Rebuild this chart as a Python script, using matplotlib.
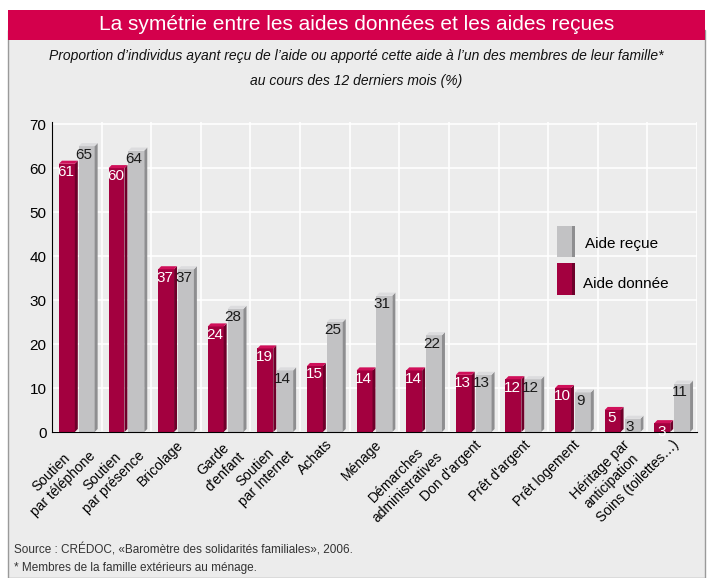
import numpy as np
import matplotlib.pyplot as plt
from matplotlib.patches import Polygon, Rectangle

# données
categories = ['Soutien\npar téléphone', 'Soutien\npar présence', 'Bricolage',
              'Garde\nd\'enfant', 'Soutien\npar Internet', 'Achats', 'Ménage',
              'Démarches\nadministratives', 'Don d\'argent', 'Prêt d\'argent',
              'Prêt logement', 'Héritage par\nanticipation', 'Soins (toilettes…)']
aide_donnee = [61, 60, 37, 24, 19, 15, 14, 14, 13, 12, 10, 5, 2]
aide_donnee_lbl = ['61', '60', '37', '24', '19', '15', '14', '14', '13', '12', '10', '5', '3']
aide_recue = [65, 64, 37, 28, 14, 25, 31, 22, 13, 12, 9, 3, 11]
yticks = [0, 10, 20, 30, 40, 50, 60, 70]

RED = '#a3003f'
RED_SIDE = '#6e002a'
RED_TOP = '#d0105a'
GREY = '#c2c2c4'
GREY_SIDE = '#8e8e90'
GREY_TOP = '#dcdcde'
TITLE_RED = '#d4004c'
BG = '#ececec'

plt.rcParams['font.family'] = ['Liberation Sans', 'DejaVu Sans']

fig = plt.figure(figsize=(7.13, 5.78), dpi=100)
fig.patch.set_facecolor('white')

# cadre général + bandeau titre
fig.patches.append(Rectangle((8 / 713, 0), 697 / 713, 548 / 578, transform=fig.transFigure,
                             facecolor=BG, edgecolor='#9a9a9a', lw=1, zorder=-5))
fig.patches.append(Rectangle((8 / 713, 538 / 578), 697 / 713, 30 / 578, transform=fig.transFigure,
                             facecolor=TITLE_RED, edgecolor='none', zorder=-4))
fig.text(0.5, 553 / 578, 'La symétrie entre les aides données et les aides reçues',
         ha='center', va='center', color='white', fontsize=15)
fig.text(0.5, 522 / 578,
         'Proportion d\u2019individus ayant reçu de l\u2019aide ou apporté cette aide à l\u2019un des membres de leur famille*',
         ha='center', va='center', fontsize=10, style='italic', color='#111111')
fig.text(0.5, 497 / 578, 'au cours des 12 derniers mois (%)',
         ha='center', va='center', fontsize=10, style='italic', color='#111111')

ax = fig.add_axes([52 / 713, 146 / 578, 645 / 713, 310 / 578])
ax.set_facecolor(BG)

x = np.arange(len(categories))
w = 0.32
dx = 0.06
dy = 0.7


def bar3d(xc, h, col, side, top):
    ax.add_patch(Rectangle((xc - w / 2, 0), w, h, facecolor=col, edgecolor='none', zorder=3))
    ax.add_patch(Polygon([(xc + w / 2, 0), (xc + w / 2 + dx, dy), (xc + w / 2 + dx, h + dy), (xc + w / 2, h)],
                         closed=True, facecolor=side, edgecolor='none', zorder=3))
    ax.add_patch(Polygon([(xc - w / 2, h), (xc + w / 2, h), (xc + w / 2 + dx, h + dy), (xc - w / 2 + dx, h + dy)],
                         closed=True, facecolor=top, edgecolor='none', zorder=3))


for i in range(len(categories)):
    xr = x[i] - 0.2
    xg = x[i] + 0.2
    bar3d(xr, aide_donnee[i], RED, RED_SIDE, RED_TOP)
    bar3d(xg, aide_recue[i], GREY, GREY_SIDE, GREY_TOP)
    ax.text(xr - 0.02, aide_donnee[i] - 0.3, aide_donnee_lbl[i], ha='center', va='top',
            color='white', fontsize=11, zorder=5)
    ax.text(xg - 0.05, aide_recue[i] - 0.3, str(aide_recue[i]), ha='center', va='top',
            color='#1a1a1a', fontsize=11, zorder=5)

ax.set_xlim(-0.5, len(categories) - 0.5)
ax.set_ylim(0, 70.5)
ax.set_yticks(yticks)
ax.set_yticklabels([str(t) for t in yticks], fontsize=11)
ax.set_xticks(x)
ax.set_xticklabels(categories, rotation=45, ha='right', va='top', rotation_mode='anchor',
                   multialignment='center', fontsize=10)
ax.tick_params(length=0, pad=4)

# grille blanche
for t in yticks:
    ax.axhline(t, color='white', lw=1.2, zorder=1)
for k in range(len(categories) + 1):
    ax.axvline(k - 0.5, color='white', lw=1.2, zorder=1)

for s in ['top', 'right']:
    ax.spines[s].set_visible(False)
ax.spines['left'].set_color('black')
ax.spines['bottom'].set_color('black')
ax.spines['left'].set_zorder(4)
ax.spines['bottom'].set_zorder(4)

# légende
lx = 9.68
ax.add_patch(Rectangle((lx, 39.7), 0.3, 7.1, facecolor=GREY, edgecolor='none', zorder=3))
ax.add_patch(Rectangle((lx + 0.3, 39.7), 0.06, 7.1, facecolor=GREY_SIDE, edgecolor='none', zorder=3))
ax.add_patch(Rectangle((lx, 31.1), 0.3, 7.3, facecolor=RED, edgecolor='none', zorder=3))
ax.add_patch(Rectangle((lx + 0.3, 31.1), 0.06, 7.3, facecolor=RED_SIDE, edgecolor='none', zorder=3))
ax.text(10.25, 42.7, 'Aide reçue', va='center', fontsize=11)
ax.text(10.2, 33.6, 'Aide donnée', va='center', fontsize=11)

fig.text(14 / 713, 28 / 578, 'Source : CRÉDOC, «Baromètre des solidarités familiales», 2006.',
         fontsize=8.5, color='#333333', va='center')
fig.text(14 / 713, 10 / 578, '* Membres de la famille extérieurs au ménage.',
         fontsize=8.5, color='#333333', va='center')

fig.savefig('out.png', dpi=100)
